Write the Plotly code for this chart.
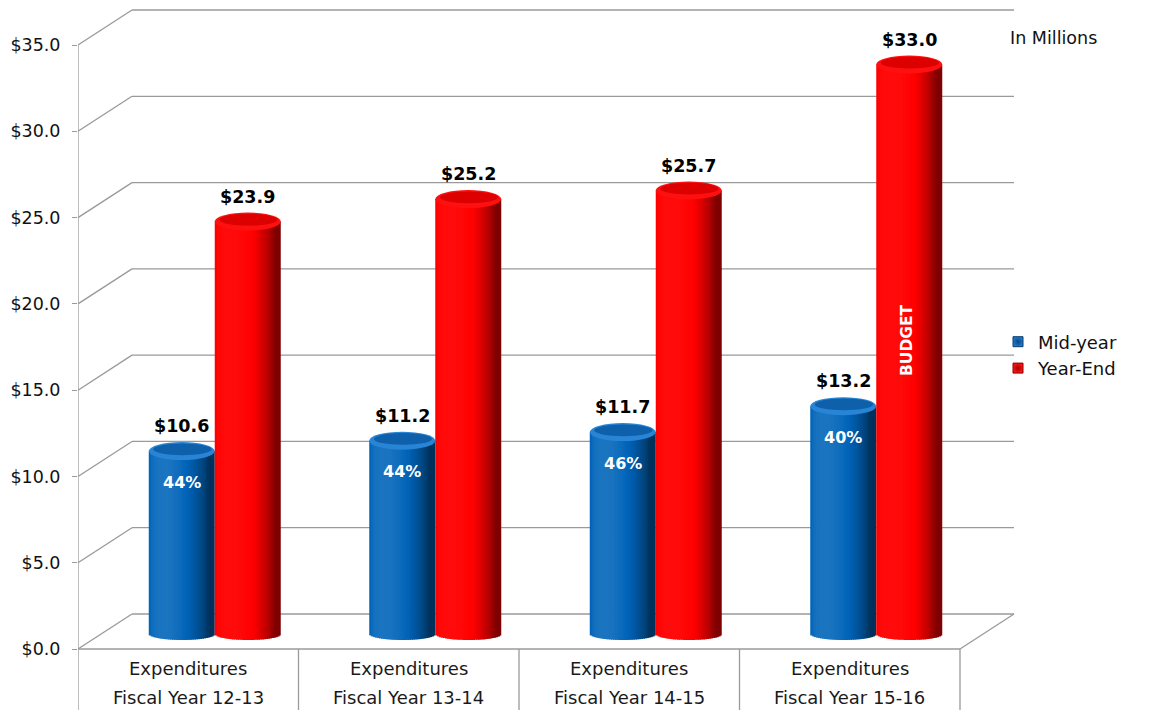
import numpy as np
import plotly.graph_objects as go

# ---- data -------------------------------------------------------------
categories = ["Fiscal Year 12-13", "Fiscal Year 13-14", "Fiscal Year 14-15", "Fiscal Year 15-16"]
category_heading = "Expenditures"
series_names = ["Mid-year", "Year-End"]
mid_year = [10.6, 11.2, 11.7, 13.2]
year_end = [23.9, 25.2, 25.7, 33.0]
mid_year_share = ["44%", "44%", "46%", "40%"]
y_ticks = [0, 5, 10, 15, 20, 25, 30, 35]
unit_note = "In Millions"
budget_note = "BUDGET"

# ---- geometry of the pseudo-3D frame ----------------------------------
W, H = 1152, 710
LEFT = 78
PX_X = 1 / 220.5          # category units per pixel
PX_Y = 1 / 17.257         # value units per pixel
Y_MIN = -61 * PX_Y
Y_MAX = 649 * PX_Y
X_MAX = (W - LEFT) * PX_X

BACK_DX, BACK_DY = 54 * PX_X, 35 * PX_Y      # depth of the back wall
CYL_DX, CYL_DY = 26.5 * PX_X, 15 * PX_Y      # depth of the cylinder row
CYL_HALF = 33 * PX_X
CYL_RY = 9 * PX_Y          # top cap half-height
CYL_RY_BASE = 6 * PX_Y     # visible curve of the base
N_STRIPS = 34

GRID = "#9a9a9a"
FONT = "DejaVu Sans"

BLUE = np.array([0, 100, 185])
RED = np.array([255, 0, 0])


def shade(base, u, spec):
    """Lambert-style shading across a cylinder, u in [-1, 1]."""
    phi = np.arcsin(np.clip(u, -1, 1))
    d = max(0.0, np.cos(phi + 0.6))
    i = 0.5 + 0.68 * d
    if i <= 1:
        c = base * i
    else:
        c = base + (255 - base) * (i - 1) * spec
    c = np.clip(c, 0, 255).astype(int)
    return f"rgb({c[0]},{c[1]},{c[2]})"


shapes = []


def line(x0, y0, x1, y1, color=GRID, width=1.3):
    shapes.append(dict(type="line", xref="x", yref="y", x0=x0, y0=y0, x1=x1, y1=y1,
                       line=dict(color=color, width=width)))


# back wall grid + side diagonals
for v in y_ticks:
    line(0, v, BACK_DX, v + BACK_DY)
    line(BACK_DX, v + BACK_DY, len(categories) + BACK_DX, v + BACK_DY)
# floor right edge
line(len(categories) + BACK_DX, BACK_DY, len(categories), 0)
# front left axis
line(0, Y_MIN, 0, y_ticks[-1])
# category box
line(0, 0, len(categories), 0)
for i in range(1, len(categories) + 1):
    line(i, Y_MIN, i, 0)


def cylinder(xc, value, base_rgb, spec, top_outer, top_inner):
    base = CYL_DY
    top = value + CYL_DY
    xs = np.linspace(xc - CYL_HALF, xc + CYL_HALF, N_STRIPS + 1)
    overlap = 0.8 * PX_X
    for k in range(N_STRIPS):
        xm = 0.5 * (xs[k] + xs[k + 1])
        u = (xm - xc) / CYL_HALF
        h = CYL_RY_BASE * np.sqrt(max(0.0, 1 - u * u))
        x1 = xs[k + 1] + (overlap if k < N_STRIPS - 1 else 0)
        shapes.append(dict(type="rect", xref="x", yref="y", x0=xs[k], x1=x1,
                           y0=base - h, y1=top, line=dict(width=0),
                           fillcolor=shade(base_rgb, u, spec)))
    shapes.append(dict(type="circle", xref="x", yref="y",
                       x0=xc - CYL_HALF, x1=xc + CYL_HALF,
                       y0=top - CYL_RY, y1=top + CYL_RY,
                       line=dict(width=0), fillcolor=top_outer))
    shapes.append(dict(type="circle", xref="x", yref="y",
                       x0=xc - CYL_HALF * 0.86, x1=xc + CYL_HALF * 0.9,
                       y0=top - CYL_RY * 0.45, y1=top + CYL_RY * 0.85,
                       line=dict(width=0), fillcolor=top_inner))


annotations = []
for i, cat in enumerate(categories):
    pair_c = i + 0.5 + CYL_DX
    xb = pair_c - CYL_HALF
    xr = pair_c + CYL_HALF
    cylinder(xb, mid_year[i], BLUE, 0.6, "rgb(40,132,212)", "rgb(14,96,170)")
    cylinder(xr, year_end[i], RED, 0.25, "rgb(255,16,16)", "rgb(220,0,0)")

    for xc, v in ((xb, mid_year[i]), (xr, year_end[i])):
        annotations.append(dict(
            x=xc, y=v + CYL_DY + CYL_RY + 16 * PX_Y, xref="x", yref="y",
            text=f"<b>${v:.1f}</b>", showarrow=False,
            xanchor="center", yanchor="middle",
            font=dict(family=FONT, size=17.5, color="#000000")))
    annotations.append(dict(
        x=xb, y=mid_year[i] + CYL_DY - 31 * PX_Y, xref="x", yref="y",
        text=f"<b>{mid_year_share[i]}</b>", showarrow=False,
        xanchor="center", yanchor="middle",
        font=dict(family=FONT, size=16, color="#ffffff")))

    annotations.append(dict(
        x=i + 0.5, y=-19 * PX_Y, xref="x", yref="y", text=category_heading,
        showarrow=False, xanchor="center", yanchor="middle",
        font=dict(family=FONT, size=18, color="#1a1a1a")))
    annotations.append(dict(
        x=i + 0.5, y=-48 * PX_Y, xref="x", yref="y", text=cat,
        showarrow=False, xanchor="center", yanchor="middle",
        font=dict(family=FONT, size=18, color="#1a1a1a")))

# projected year label inside the last year-end cylinder
last = len(categories) - 1
annotations.append(dict(
    x=last + 0.5 + CYL_DX + CYL_HALF - 1.5 * PX_X, y=year_end[last] / 2 + CYL_DY + 9 * PX_Y,
    xref="x", yref="y", text=f"<b>{budget_note}</b>", textangle=-90,
    showarrow=False, xanchor="center", yanchor="middle",
    font=dict(family=FONT, size=15.5, color="#ffffff")))

annotations.append(dict(
    x=(1053 - LEFT) / (W - LEFT), y=1 - 38 / H, xref="paper", yref="paper",
    text=unit_note, showarrow=False, xanchor="center", yanchor="middle",
    font=dict(family=FONT, size=17.5, color="#111111")))

fig = go.Figure()
# legend entries
fig.add_trace(go.Scatter(
    x=[None], y=[None], mode="markers", name=series_names[0],
    marker=dict(symbol="square", size=10, color="rgb(30,120,205)",
                line=dict(color="rgb(10,60,110)", width=1),
                gradient=dict(type="radial", color="rgb(10,70,130)"))))
fig.add_trace(go.Scatter(
    x=[None], y=[None], mode="markers", name=series_names[1],
    marker=dict(symbol="square", size=10, color="rgb(255,20,20)",
                line=dict(color="rgb(140,0,0)", width=1),
                gradient=dict(type="radial", color="rgb(160,0,0)"))))

fig.update_layout(
    width=W, height=H,
    margin=dict(l=LEFT, r=0, t=0, b=0),
    paper_bgcolor="white", plot_bgcolor="white",
    shapes=shapes, annotations=annotations,
    showlegend=True,
    legend=dict(x=(998 - LEFT) / (W - LEFT), y=0.5, xanchor="left", yanchor="middle",
                font=dict(family=FONT, size=18, color="#111111"),
                bgcolor="rgba(0,0,0,0)", tracegroupgap=0),
    xaxis=dict(range=[0, X_MAX], visible=False, fixedrange=True),
    yaxis=dict(range=[Y_MIN, Y_MAX], tickvals=y_ticks,
               ticktext=[f"${v:.1f}" for v in y_ticks],
               ticks="outside", ticklen=5, tickcolor=GRID, tickwidth=1.3,
               showgrid=False, zeroline=False, showline=False,
               ticklabelstandoff=8,
               tickfont=dict(family=FONT, size=17.5, color="#111111"),
               fixedrange=True),
)

fig.write_html("out.html", config={"displayModeBar": False})
